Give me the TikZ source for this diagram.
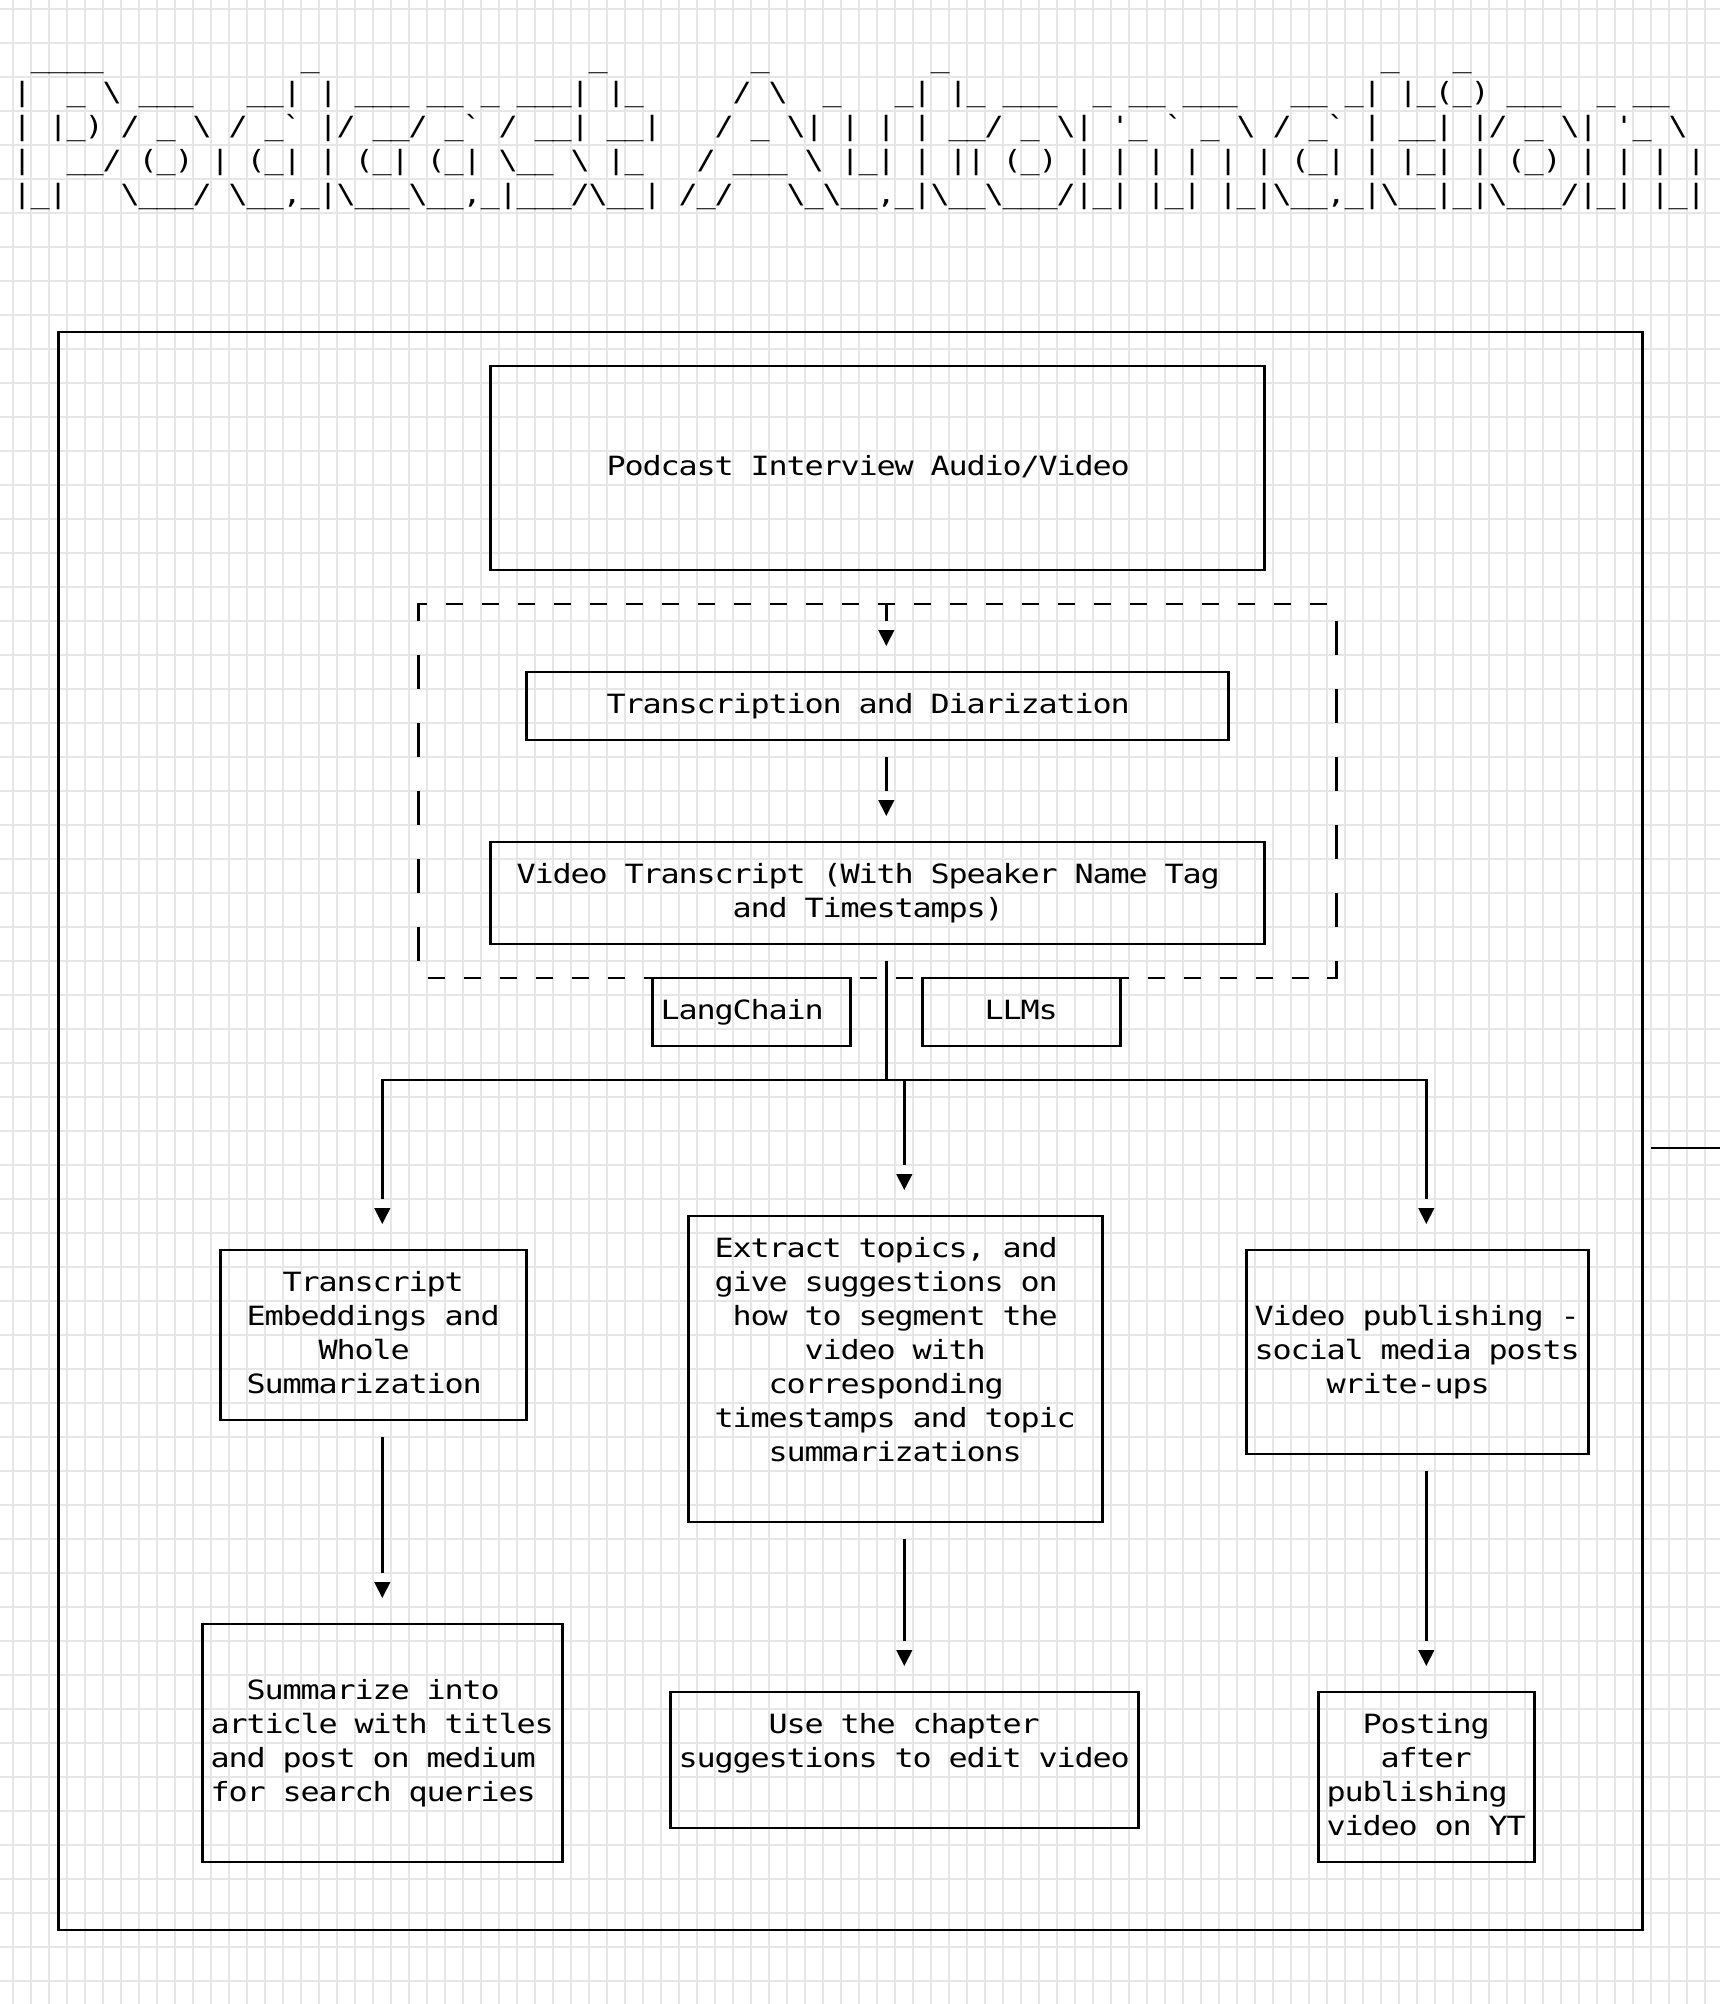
\documentclass[tikz,border=0pt]{standalone}
\usepackage{fontspec}
\setmonofont{DejaVu Sans Mono}[FakeStretch=1.2]
\usetikzlibrary{fit}
\definecolor{gridc}{RGB}{230,230,230}
\tikzset{
  gchar/.style={font=\ttfamily\fontsize{13.25pt}{13.25pt}\selectfont, inner sep=0pt, outer sep=0pt, anchor=base, text=black},
  box/.style={draw=black, line width=1.35pt, rectangle, inner sep=0pt, outer sep=0pt},
  conn/.style={draw=black, line width=1.35pt},
  gridline/.style={draw=gridc, line width=0.85pt},
  arrowtri/.style={fill=black},
}
\newcommand\placechar[3]{\node[gchar] (ch-#1-#2) at (#1,#2+0.2265) {#3};}
\newcommand\downtri[1]{\fill[arrowtri] (#1) ++(-0.45,-0.235) -- ++(0.9,0) -- ++(-0.45,0.47) -- cycle;}
\ExplSyntaxOn
\int_new:N \l_pa_col_int
\cs_new_protected:Npn \gridtext #1#2#3
  {
    \int_set:Nn \l_pa_col_int {#1}
    \str_map_inline:nn {#3}
      {
        \str_if_eq:nnF {##1} {.}
          { \exp_args:Nx \placechar { \int_use:N \l_pa_col_int } {#2} {##1} }
        \int_incr:N \l_pa_col_int
      }
  }
\ExplSyntaxOff
\begin{document}
\begin{tikzpicture}[x=9pt,y=-17pt]
\useasboundingbox (-1.2389,-0.7647) rectangle (94.3167,58.1765);
\fill[white] (-1.2389,-0.7647) rectangle (94.3167,58.1765);
\foreach \k in {0,...,94} \draw[gridline] (\k-0.5,-0.7647) -- (\k-0.5,58.1765);
\foreach \k in {0,...,58} \draw[gridline] (-1.2389,\k-0.5) -- (94.3167,\k-0.5);

% ---- title (ASCII art) ----
\gridtext{1}{1}{____}
\gridtext{16}{1}{_}
\gridtext{32}{1}{_}
\gridtext{41}{1}{_}
\gridtext{51}{1}{_}
\gridtext{76}{1}{_}
\gridtext{80}{1}{_}
\gridtext{0}{2}{|.._.\.___...__|.|.___.__._.___|.|_}
\gridtext{40}{2}{/.\.._..._|.|_.___.._.__.___...__._|.|_(_).___.._.__}
\gridtext{0}{3}{|.|_)./._.\./._`.|/.__/._`./.__|.__|.../._.\|.|.|.|.__/._.\|.'_.`._.\./._`.|.__|.|/._.\|.'_.\.}
\gridtext{0}{4}{|..__/.(_).|.(_|.|.(_|.(_|.\__.\.|_.../.___.\.|_|.|.||.(_).|.|.|.|.|.|.(_|.|.|_|.|.(_).|.|.|.|}
\gridtext{0}{5}{|_|...\___/.\__,_|\___\__,_|___/\__|./_/...\_\__,_|\__\___/|_|.|_|.|_|\__,_|\__|_|\___/|_|.|_|}

% ---- boxes ----
\node[box, fit={(2,9) (90,56)}] (outer) {};
\node[box, fit={(26,10) (69,16)}] (podcast) {};
\node[box, fit={(28,19) (67,21)}] (transcr) {};
\node[box, fit={(26,24) (69,27)}] (vidtr) {};
\node[box, fit={(35,28) (46,30)}] (langchain) {};
\node[box, fit={(50,28) (61,30)}] (llms) {};
\node[box, fit={(11,36) (28,41)}] (embed) {};
\node[box, fit={(37,35) (60,44)}] (topics) {};
\node[box, fit={(68,36) (87,42)}] (publish) {};
\node[box, fit={(10,47) (30,54)}] (article) {};
\node[box, fit={(36,49) (62,53)}] (edit) {};
\node[box, fit={(72,49) (84,54)}] (posting) {};

% ---- dashed group box ----
\draw[conn] (22,17.5) -- (22,17) -- (22.5,17);
\foreach \c in {24,26,...,72} \draw[conn] (\c-0.48,17) -- (\c+0.48,17);
\foreach \r in {19,21,...,27} \draw[conn] (22,\r-0.5) -- (22,\r+0.5);
\foreach \r in {18,20,...,26} \draw[conn] (73,\r-0.5) -- (73,\r+0.5);
\draw[conn] (73,27.5) -- (73,28) -- (72.5,28);
\foreach \c in {23,25,...,71} \draw[conn] (\c-0.48,28) -- (\c+0.48,28);

% ---- connectors ----
\coordinate (a1s) at (48,17);   \coordinate (a1e) at (48,17.5); \coordinate (a1h) at (48,18);
\coordinate (a2s) at (48,21.5); \coordinate (a2e) at (48,22.5); \coordinate (a2h) at (48,23);
\coordinate (b0s) at (48,27.5); \coordinate (b0e) at (48,31);
\coordinate (bl1) at (20,31);   \coordinate (bl2) at (20,34.5); \coordinate (blh) at (20,35);
\coordinate (br1) at (78,31);   \coordinate (br2) at (78,34.5); \coordinate (brh) at (78,35);
\coordinate (bm1) at (49,31);   \coordinate (bm2) at (49,33.5); \coordinate (bmh) at (49,34);
\coordinate (l2s) at (20,41.5); \coordinate (l2e) at (20,45.5); \coordinate (l2h) at (20,46);
\coordinate (m2s) at (49,44.5); \coordinate (m2e) at (49,47.5); \coordinate (m2h) at (49,48);
\coordinate (r2s) at (78,42.5); \coordinate (r2e) at (78,47.5); \coordinate (r2h) at (78,48);
\coordinate (sidea) at (90.5,33); \coordinate (sideb) at (94.3167,33);

\draw[conn] (a1s) -- (a1e); \downtri{a1h}
\draw[conn] (a2s) -- (a2e); \downtri{a2h}
\draw[conn] (b0s) -- (b0e);
\draw[conn] (bl2) -- (bl1) -- (br1) -- (br2);
\draw[conn] (bm1) -- (bm2);
\downtri{blh} \downtri{bmh} \downtri{brh}
\draw[conn] (l2s) -- (l2e); \downtri{l2h}
\draw[conn] (m2s) -- (m2e); \downtri{m2h}
\draw[conn] (r2s) -- (r2e); \downtri{r2h}
\draw[conn] (sidea) -- (sideb);

% ---- texts ----
\gridtext{33}{13}{Podcast Interview Audio/Video}
\gridtext{33}{20}{Transcription and Diarization}
\gridtext{28}{25}{Video Transcript (With Speaker Name Tag}
\gridtext{40}{26}{and Timestamps)}
\gridtext{36}{29}{LangChain}
\gridtext{54}{29}{LLMs}
\gridtext{15}{37}{Transcript}
\gridtext{13}{38}{Embeddings and}
\gridtext{17}{39}{Whole}
\gridtext{13}{40}{Summarization}
\gridtext{39}{36}{Extract topics, and}
\gridtext{39}{37}{give suggestions on}
\gridtext{40}{38}{how to segment the}
\gridtext{44}{39}{video with}
\gridtext{42}{40}{corresponding}
\gridtext{39}{41}{timestamps and topic}
\gridtext{42}{42}{summarizations}
\gridtext{69}{38}{Video publishing -}
\gridtext{69}{39}{social media posts}
\gridtext{73}{40}{write-ups}
\gridtext{13}{49}{Summarize into}
\gridtext{11}{50}{article with titles}
\gridtext{11}{51}{and post on medium}
\gridtext{11}{52}{for search queries}
\gridtext{42}{50}{Use the chapter}
\gridtext{37}{51}{suggestions to edit video}
\gridtext{75}{50}{Posting}
\gridtext{76}{51}{after}
\gridtext{73}{52}{publishing}
\gridtext{73}{53}{video on YT}
\end{tikzpicture}
\end{document}
